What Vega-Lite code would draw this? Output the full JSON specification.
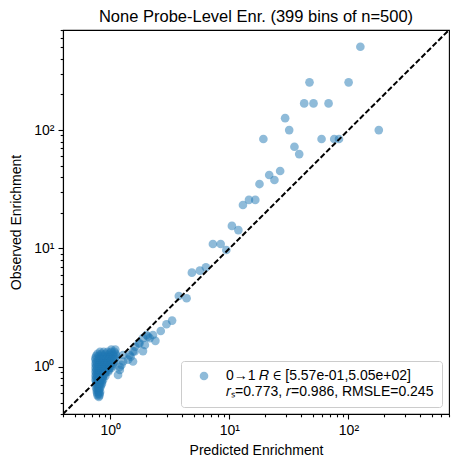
{
  "$schema": "https://vega.github.io/schema/vega-lite/v6.json",
  "description": "Predicted vs observed enrichment, log-log scatter",
  "autosize": "none",
  "padding": {"left": 63, "top": 30, "right": 10, "bottom": 61},
  "width": 386,
  "height": 384,
  "title": {
    "text": "None Probe-Level Enr. (399 bins of n=500)",
    "font": "Liberation Sans",
    "fontSize": 16.5,
    "fontWeight": "normal",
    "color": "black",
    "anchor": "middle",
    "offset": 4
  },
  "config": {
    "view": {"stroke": "black", "strokeWidth": 1.1},
    "font": "Liberation Sans",
    "axis": {
      "grid": false,
      "domainColor": "black",
      "domainWidth": 1.1,
      "tickColor": "black",
      "tickWidth": 1.1,
      "labelColor": "black",
      "labelFont": "Liberation Sans",
      "labelFontSize": 14,
      "titleColor": "black",
      "titleFont": "Liberation Sans",
      "titleFontSize": 14,
      "titleFontWeight": "normal"
    }
  },
  "datasets": {
    "bins": [
      {"pred": 126, "obs": 505},
      {"pred": 47.1, "obs": 253},
      {"pred": 100.4, "obs": 253},
      {"pred": 42.5, "obs": 168},
      {"pred": 50.9, "obs": 168},
      {"pred": 68.1, "obs": 168},
      {"pred": 29.4, "obs": 126},
      {"pred": 31.8, "obs": 100},
      {"pred": 180, "obs": 100},
      {"pred": 19.3, "obs": 84},
      {"pred": 59.5, "obs": 84},
      {"pred": 76, "obs": 84},
      {"pred": 83.3, "obs": 84},
      {"pred": 35.2, "obs": 72.3},
      {"pred": 38.6, "obs": 62.7},
      {"pred": 26.7, "obs": 45.1},
      {"pred": 21.6, "obs": 41.7},
      {"pred": 23.9, "obs": 37.9},
      {"pred": 17.9, "obs": 35},
      {"pred": 14.6, "obs": 25.7},
      {"pred": 16.5, "obs": 25.7},
      {"pred": 13.0, "obs": 23.3},
      {"pred": 10.5, "obs": 15.5},
      {"pred": 11.9, "obs": 14.3},
      {"pred": 7.27, "obs": 10.9},
      {"pred": 8.45, "obs": 10.9},
      {"pred": 9.42, "obs": 9.71},
      {"pred": 4.84, "obs": 6.25},
      {"pred": 5.65, "obs": 6.5},
      {"pred": 6.35, "obs": 6.94},
      {"pred": 3.76, "obs": 3.97},
      {"pred": 4.37, "obs": 3.80},
      {"pred": 3.30, "obs": 2.46},
      {"pred": 2.96, "obs": 2.29},
      {"pred": 2.65, "obs": 2.01},
      {"pred": 2.01, "obs": 1.86},
      {"pred": 2.14, "obs": 1.75},
      {"pred": 2.39, "obs": 1.66},
      {"pred": 1.73, "obs": 1.58},
      {"pred": 1.62, "obs": 1.48},
      {"pred": 1.88, "obs": 1.36},
      {"pred": 1.55, "obs": 1.35},
      {"pred": 1.48, "obs": 1.22},
      {"pred": 1.28, "obs": 1.26},
      {"pred": 0.955, "obs": 1.21},
      {"pred": 1.20, "obs": 1.00},
      {"pred": 1.28, "obs": 1.11},
      {"pred": 1.41, "obs": 1.15},
      {"pred": 1.45, "obs": 1.26},
      {"pred": 1.60, "obs": 1.35},
      {"pred": 1.76, "obs": 1.58},
      {"pred": 1.95, "obs": 1.53},
      {"pred": 2.07, "obs": 1.80},
      {"pred": 1.88, "obs": 1.75},
      {"pred": 2.28, "obs": 1.86},
      {"pred": 1.55, "obs": 1.11},
      {"pred": 1.24, "obs": 1.04},
      {"pred": 1.20, "obs": 0.943},
      {"pred": 1.16, "obs": 0.855},
      {"pred": 1.02, "obs": 1.40},
      {"pred": 1.10, "obs": 1.40},
      {"pred": 0.82, "obs": 1.34},
      {"pred": 0.88, "obs": 1.34},
      {"pred": 0.95, "obs": 1.34},
      {"pred": 1.02, "obs": 1.34},
      {"pred": 1.08, "obs": 1.34},
      {"pred": 0.78, "obs": 1.29},
      {"pred": 0.84, "obs": 1.29},
      {"pred": 0.91, "obs": 1.29},
      {"pred": 0.98, "obs": 1.29},
      {"pred": 1.05, "obs": 1.29},
      {"pred": 1.11, "obs": 1.29},
      {"pred": 0.76, "obs": 1.24},
      {"pred": 0.80, "obs": 1.24},
      {"pred": 0.85, "obs": 1.24},
      {"pred": 0.90, "obs": 1.24},
      {"pred": 0.96, "obs": 1.24},
      {"pred": 1.01, "obs": 1.24},
      {"pred": 1.06, "obs": 1.24},
      {"pred": 1.12, "obs": 1.24},
      {"pred": 0.75, "obs": 1.19},
      {"pred": 0.81, "obs": 1.19},
      {"pred": 0.87, "obs": 1.19},
      {"pred": 0.93, "obs": 1.19},
      {"pred": 0.99, "obs": 1.19},
      {"pred": 1.10, "obs": 1.19},
      {"pred": 0.75, "obs": 1.15},
      {"pred": 0.79, "obs": 1.15},
      {"pred": 0.83, "obs": 1.15},
      {"pred": 0.87, "obs": 1.15},
      {"pred": 0.92, "obs": 1.15},
      {"pred": 0.97, "obs": 1.15},
      {"pred": 1.03, "obs": 1.15},
      {"pred": 1.09, "obs": 1.15},
      {"pred": 0.76, "obs": 1.10},
      {"pred": 0.81, "obs": 1.10},
      {"pred": 0.86, "obs": 1.10},
      {"pred": 0.94, "obs": 1.10},
      {"pred": 1.00, "obs": 1.10},
      {"pred": 1.07, "obs": 1.10},
      {"pred": 0.75, "obs": 1.06},
      {"pred": 0.78, "obs": 1.06},
      {"pred": 0.82, "obs": 1.06},
      {"pred": 0.86, "obs": 1.06},
      {"pred": 0.90, "obs": 1.06},
      {"pred": 0.95, "obs": 1.06},
      {"pred": 1.00, "obs": 1.06},
      {"pred": 1.05, "obs": 1.06},
      {"pred": 0.76, "obs": 1.02},
      {"pred": 0.80, "obs": 1.02},
      {"pred": 0.84, "obs": 1.02},
      {"pred": 0.88, "obs": 1.02},
      {"pred": 0.93, "obs": 1.02},
      {"pred": 0.99, "obs": 1.02},
      {"pred": 1.04, "obs": 1.02},
      {"pred": 0.75, "obs": 0.98},
      {"pred": 0.78, "obs": 0.98},
      {"pred": 0.81, "obs": 0.98},
      {"pred": 0.85, "obs": 0.98},
      {"pred": 0.89, "obs": 0.98},
      {"pred": 0.93, "obs": 0.98},
      {"pred": 0.98, "obs": 0.98},
      {"pred": 1.02, "obs": 0.98},
      {"pred": 0.76, "obs": 0.94},
      {"pred": 0.80, "obs": 0.94},
      {"pred": 0.84, "obs": 0.94},
      {"pred": 0.88, "obs": 0.94},
      {"pred": 0.92, "obs": 0.94},
      {"pred": 0.97, "obs": 0.94},
      {"pred": 0.75, "obs": 0.91},
      {"pred": 0.78, "obs": 0.91},
      {"pred": 0.81, "obs": 0.91},
      {"pred": 0.84, "obs": 0.91},
      {"pred": 0.88, "obs": 0.91},
      {"pred": 0.92, "obs": 0.91},
      {"pred": 0.96, "obs": 0.91},
      {"pred": 0.76, "obs": 0.87},
      {"pred": 0.79, "obs": 0.87},
      {"pred": 0.83, "obs": 0.87},
      {"pred": 0.87, "obs": 0.87},
      {"pred": 0.90, "obs": 0.87},
      {"pred": 0.75, "obs": 0.84},
      {"pred": 0.78, "obs": 0.84},
      {"pred": 0.81, "obs": 0.84},
      {"pred": 0.84, "obs": 0.84},
      {"pred": 0.87, "obs": 0.84},
      {"pred": 0.91, "obs": 0.84},
      {"pred": 0.76, "obs": 0.81},
      {"pred": 0.80, "obs": 0.81},
      {"pred": 0.83, "obs": 0.81},
      {"pred": 0.86, "obs": 0.81},
      {"pred": 0.75, "obs": 0.78},
      {"pred": 0.78, "obs": 0.78},
      {"pred": 0.81, "obs": 0.78},
      {"pred": 0.84, "obs": 0.78},
      {"pred": 0.87, "obs": 0.78},
      {"pred": 0.76, "obs": 0.75},
      {"pred": 0.79, "obs": 0.75},
      {"pred": 0.82, "obs": 0.75},
      {"pred": 0.85, "obs": 0.75},
      {"pred": 0.76, "obs": 0.72},
      {"pred": 0.79, "obs": 0.72},
      {"pred": 0.82, "obs": 0.72},
      {"pred": 0.85, "obs": 0.72},
      {"pred": 0.77, "obs": 0.69},
      {"pred": 0.80, "obs": 0.69},
      {"pred": 0.83, "obs": 0.69},
      {"pred": 0.76, "obs": 0.665},
      {"pred": 0.79, "obs": 0.665},
      {"pred": 0.82, "obs": 0.665},
      {"pred": 0.77, "obs": 0.64},
      {"pred": 0.80, "obs": 0.64},
      {"pred": 0.77, "obs": 0.615},
      {"pred": 0.80, "obs": 0.615},
      {"pred": 0.82, "obs": 0.615},
      {"pred": 0.78, "obs": 0.595},
      {"pred": 0.81, "obs": 0.595},
      {"pred": 0.78, "obs": 0.575},
      {"pred": 0.81, "obs": 0.575},
      {"pred": 0.80, "obs": 0.557}
    ],
    "diagonal": [
      {"pred": 0.4, "obs": 0.4},
      {"pred": 700, "obs": 700}
    ]
  },
  "layer": [
    {
      "data": {"name": "bins"},
      "mark": {"type": "point", "filled": true, "shape": "circle", "size": 75, "opacity": 0.5},
      "encoding": {
        "x": {
          "field": "pred",
          "type": "quantitative",
          "title": "Predicted Enrichment",
          "scale": {"type": "log", "domain": [0.4, 700], "nice": false},
          "axis": {
            "values": [0.4, 0.5, 0.6, 0.7, 0.8, 0.9, 1, 2, 3, 4, 5, 6, 7, 8, 9, 10, 20, 30, 40, 50, 60, 70, 80, 90, 100, 200, 300, 400, 500, 600, 700],
            "labelExpr": "datum.value == 1 ? '10⁰' : datum.value == 10 ? '10¹' : datum.value == 100 ? '10²' : ''",
            "tickSize": {"condition": {"test": "datum.value == 1 || datum.value == 10 || datum.value == 100", "value": 5}, "value": 2.8},
            "labelPadding": 4,
            "titlePadding": 6
          }
        },
        "y": {
          "field": "obs",
          "type": "quantitative",
          "title": "Observed Enrichment",
          "scale": {"type": "log", "domain": [0.4, 700], "nice": false},
          "axis": {
            "values": [0.4, 0.5, 0.6, 0.7, 0.8, 0.9, 1, 2, 3, 4, 5, 6, 7, 8, 9, 10, 20, 30, 40, 50, 60, 70, 80, 90, 100, 200, 300, 400, 500, 600, 700],
            "labelExpr": "datum.value == 1 ? '10⁰' : datum.value == 10 ? '10¹' : datum.value == 100 ? '10²' : ''",
            "tickSize": {"condition": {"test": "datum.value == 1 || datum.value == 10 || datum.value == 100", "value": 5}, "value": 2.8},
            "labelPadding": 4,
            "titlePadding": 10
          }
        },
        "color": {
          "datum": "bins",
          "scale": {"range": ["#1f77b4"]},
          "legend": {
            "title": null,
            "orient": "bottom-right",
            "offset": 7,
            "padding": 8,
            "cornerRadius": 3,
            "strokeColor": "#cccccc",
            "fillColor": "rgba(255,255,255,0.8)",
            "symbolType": "circle",
            "symbolSize": 75,
            "symbolOpacity": 0.5,
            "symbolOffset": 8,
            "labelOffset": 15,
            "labelFont": "Liberation Sans",
            "labelFontSize": 14,
            "labelColor": "black",
            "labelLimit": 400,
            "labelExpr": "['0→1 𝑅 ∈  [5.57e-01,5.05e+02]', '𝑟ₛ=0.773, 𝑟=0.986, RMSLE=0.245']"
          }
        }
      }
    },
    {
      "data": {"name": "diagonal"},
      "mark": {"type": "line", "color": "black", "strokeWidth": 2, "strokeDash": [5.5, 2.4], "clip": true},
      "encoding": {
        "x": {"field": "pred", "type": "quantitative", "scale": {"type": "log", "domain": [0.4, 700], "nice": false}},
        "y": {"field": "obs", "type": "quantitative", "scale": {"type": "log", "domain": [0.4, 700], "nice": false}}
      }
    }
  ]
}
